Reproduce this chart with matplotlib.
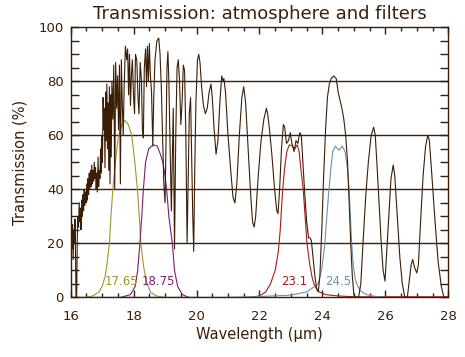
import matplotlib.pyplot as plt
from matplotlib.ticker import MultipleLocator

brown = '#3c1e06'

# atmosphere transmission
atm_wl = [16.00, 16.02, 16.04, 16.06, 16.08, 16.10, 16.12, 16.14, 16.16, 16.17,
          16.19, 16.21, 16.23, 16.25, 16.27, 16.29, 16.31, 16.33, 16.35, 16.37,
          16.39, 16.41, 16.43, 16.45, 16.47, 16.49, 16.51, 16.53, 16.55, 16.57,
          16.59, 16.61, 16.63, 16.65, 16.67, 16.69, 16.71, 16.73, 16.75, 16.77,
          16.79, 16.81, 16.83, 16.85, 16.87, 16.89, 16.91, 16.93, 16.95, 16.97,
          16.99, 17.01, 17.03, 17.05, 17.07, 17.09, 17.11, 17.13, 17.15, 17.17,
          17.19, 17.21, 17.23, 17.25, 17.27, 17.29, 17.31, 17.34, 17.37, 17.40,
          17.43, 17.46, 17.49, 17.52, 17.55, 17.58, 17.61, 17.64, 17.67, 17.70,
          17.74, 17.78, 17.81, 17.84, 17.87, 17.90, 17.93, 17.96, 18.00, 18.03,
          18.06, 18.10, 18.14, 18.17, 18.21, 18.25, 18.28, 18.31, 18.34, 18.38,
          18.41, 18.44, 18.47, 18.50, 18.53, 18.57, 18.61, 18.64, 18.68, 18.74,
          18.80, 18.84, 18.88, 18.92, 18.96, 19.00, 19.03, 19.06, 19.09, 19.12,
          19.16, 19.20, 19.23, 19.26, 19.30, 19.34, 19.38, 19.42, 19.46, 19.50,
          19.54, 19.58, 19.62, 19.66, 19.70, 19.73, 19.77, 19.81, 19.84, 19.88,
          19.91, 19.94, 19.98, 20.03, 20.07, 20.11, 20.16, 20.22, 20.28, 20.34,
          20.40, 20.46, 20.50, 20.56, 20.62, 20.68, 20.74, 20.80, 20.84, 20.87,
          20.92, 21.00, 21.10, 21.16, 21.22, 21.28, 21.36, 21.44, 21.50, 21.56,
          21.64, 21.72, 21.78, 21.83, 21.88, 21.96, 22.05, 22.14, 22.22, 22.26,
          22.32, 22.40, 22.48, 22.55, 22.59, 22.64, 22.70, 22.76, 22.80, 22.86,
          22.92, 22.98, 23.03, 23.10, 23.16, 23.22, 23.28, 23.33, 23.38, 23.43,
          23.50, 23.56, 23.61, 23.65, 23.70, 23.76, 23.82, 23.87, 23.92, 23.98,
          24.04, 24.10, 24.16, 24.22, 24.28, 24.36, 24.44, 24.50, 24.56, 24.62,
          24.68, 24.74, 24.80, 24.85, 24.90, 24.95, 25.00, 25.05, 25.15, 25.22,
          25.30, 25.38, 25.46, 25.55, 25.63, 25.68, 25.74, 25.80, 25.87, 25.93,
          25.99, 26.05, 26.12, 26.18, 26.25, 26.30, 26.38, 26.46, 26.54, 26.62,
          26.70, 26.76, 26.82, 26.87, 26.93, 27.00, 27.05, 27.12, 27.20, 27.28,
          27.35, 27.40, 27.48, 27.58, 27.68, 27.78, 27.86, 27.95, 28.00]
atm_tr = [22, 30, 18, 27, 14, 25, 20, 29, 10, 0,
          0, 22, 30, 26, 35, 28, 33, 25, 36, 30,
          38, 32, 40, 34, 39, 35, 42, 36, 44, 38,
          46, 40, 47, 41, 49, 42, 47, 43, 50, 44,
          48, 40, 46, 39, 52, 41, 47, 44, 55, 46,
          60, 50, 74, 62, 70, 48, 76, 58, 79, 55,
          72, 47, 78, 42, 75, 52, 80, 66, 86, 40,
          87, 70, 82, 62, 86, 42, 88, 72, 60, 78,
          93, 88, 92, 75, 90, 71, 82, 88, 74, 68,
          90, 88, 74, 68, 87, 80, 62, 59, 85, 92,
          78, 93, 80, 94, 83, 76, 56, 74, 88, 95,
          96, 90, 78, 60, 42, 35, 58, 85, 91, 80,
          55, 32, 50, 70, 18, 60, 85, 88, 80, 64,
          72, 86, 84, 60, 20, 40, 68, 74, 55, 30,
          17, 45, 72, 88, 90, 87, 78, 71, 68, 70,
          76, 79, 74, 62, 53, 58, 72, 82, 80, 81,
          76, 60, 45, 37, 35, 42, 60, 74, 78, 72,
          55, 38, 28, 26, 30, 45, 58, 66, 70, 68,
          62, 52, 40, 32, 31, 40, 55, 64, 63, 57,
          58, 61, 57, 54, 58, 57, 61, 60, 50, 40,
          28, 22, 22, 21, 15, 8, 3, 2, 8, 25,
          45, 62, 74, 79, 81, 82, 81, 76, 73, 70,
          66, 60, 50, 35, 20, 8, 1, 0, 0, 5,
          22, 38, 50, 60, 63, 60, 48, 35, 20, 10,
          6, 18, 32, 44, 49, 45, 30, 15, 5, 0,
          0, 6, 12, 14, 11, 9, 12, 28, 45, 56,
          60, 58, 45, 28, 13, 4, 0, 0, 0]

# filter profiles
f1765_wl = [16.5, 16.7, 16.9, 17.0, 17.1, 17.15, 17.23, 17.28, 17.34, 17.42,
            17.52, 17.63, 17.73, 17.83, 17.94, 18.04, 18.12, 18.18, 18.23, 18.31,
            18.4, 18.53, 18.73, 18.95]
f1765_tr = [0, 0.5, 2, 4, 8, 12, 20, 30, 40, 50,
            60, 64, 65.5, 64, 60, 50, 40, 30, 20, 12,
            6, 2, 0.5, 0]
f1875_wl = [17.6, 17.9, 18.05, 18.13, 18.2, 18.26, 18.31, 18.38, 18.48, 18.62,
            18.75, 18.85, 18.93, 19.0, 19.05, 19.12, 19.23, 19.3, 19.4, 19.55,
            19.75]
f1875_tr = [0, 1, 4, 10, 20, 30, 40, 50, 55, 56.5,
            56, 53, 50, 45, 40, 30, 20, 10, 4, 1,
            0]
f231_wl = [21.7, 22.0, 22.2, 22.35, 22.5, 22.6, 22.66, 22.7, 22.74, 22.8,
           22.87, 22.95, 23.05, 23.12, 23.2, 23.26, 23.32, 23.39, 23.45, 23.51,
           23.6, 23.68, 23.76, 23.9, 24.1, 24.5, 25.0, 28.0]
f231_tr = [0, 0.5, 2, 5, 10, 17, 25, 33, 40, 48,
           54, 56.5, 56, 55, 56.5, 54, 47, 40, 30, 20,
           12, 7, 4, 2, 1, 0.5, 0.2, 0.2]
f245_wl = [16.0, 21.0, 22.0, 23.0, 23.5, 23.75, 23.87, 23.97, 24.03, 24.08,
           24.14, 24.21, 24.27, 24.33, 24.41, 24.52, 24.63, 24.72, 24.79, 24.85,
           24.89, 24.93, 24.98, 25.04, 25.09, 25.2, 25.4, 25.7, 26.0]
f245_tr = [0, 0, 0.3, 0.8, 2, 4, 5, 10, 15, 20,
           30, 40, 48, 54, 56, 54.5, 56, 54, 48, 40,
           30, 20, 12, 7, 5, 2.5, 1, 0.3, 0]

filters = [
    (f1765_wl, f1765_tr, '#a3952c', '17.65', 17.09),
    (f1875_wl, f1875_tr, '#7c1c70', '18.75', 18.25),
    (f231_wl, f231_tr, '#a41e1e', '23.1', 22.68),
    (f245_wl, f245_tr, '#6a94a6', '24.5', 24.08),
]

fig = plt.figure(figsize=(4.65, 3.57), dpi=100)
ax = fig.add_axes([0.152, 0.1672, 0.812, 0.7563])

for y in [20, 40, 60, 80]:
    ax.axhline(y, color=brown, lw=1.0, zorder=1)

ax.plot(atm_wl, atm_tr, color=brown, lw=0.8, zorder=3)

for wl, tr, c, name, xl in filters:
    ax.plot(wl, tr, color=c, lw=0.8, zorder=2)
    ax.text(xl, 4.5, name, color=c, fontsize=8.5, ha='left', va='baseline', zorder=4)

ax.set_xlim(16, 28)
ax.set_ylim(0, 100)
ax.xaxis.set_major_locator(MultipleLocator(2))
ax.xaxis.set_minor_locator(MultipleLocator(0.5))
ax.yaxis.set_major_locator(MultipleLocator(20))
ax.yaxis.set_minor_locator(MultipleLocator(5))
ax.tick_params(which='both', direction='in', top=True, right=True,
               colors=brown, labelsize=9.5, width=1.0)
ax.tick_params(axis='x', which='major', length=5, pad=9)
ax.tick_params(axis='x', which='minor', length=3)
ax.tick_params(axis='y', which='major', length=6, pad=5)
ax.tick_params(axis='y', which='minor', length=6)
for s in ax.spines.values():
    s.set_color(brown)
    s.set_linewidth(1.0)

ax.set_title('Transmission: atmosphere and filters', color=brown, fontsize=13, pad=6)
ax.set_xlabel('Wavelength (μm)', color=brown, fontsize=10.5, labelpad=3)
ax.set_ylabel('Transmission (%)', color=brown, fontsize=10.5, labelpad=8)

fig.savefig('out.png', dpi=100)
